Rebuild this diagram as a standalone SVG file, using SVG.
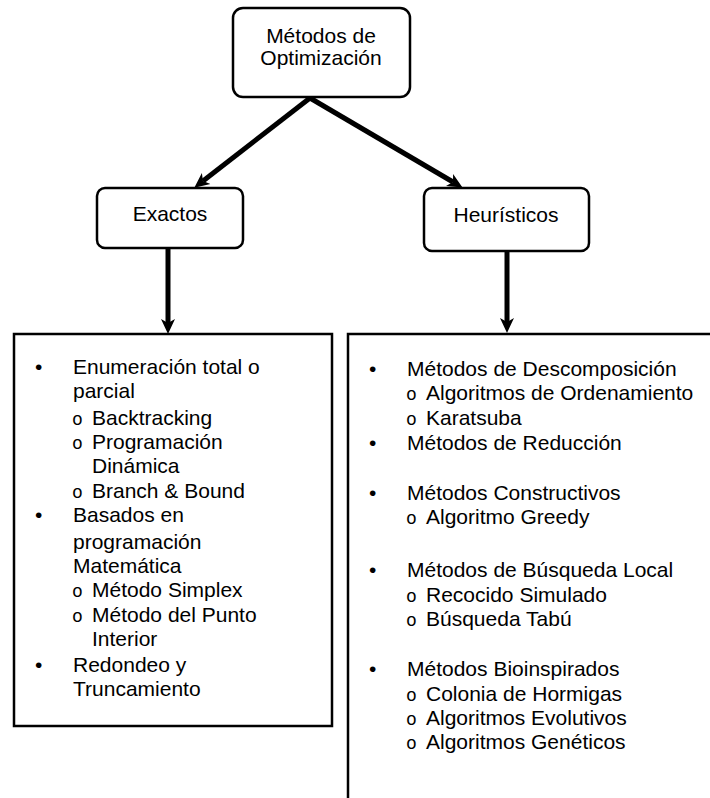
<svg xmlns="http://www.w3.org/2000/svg" width="710" height="798" viewBox="0 0 710 798">
<style>
.box{fill:#fff;stroke:#000;stroke-width:2.5}
.t{font-family:"Liberation Sans",Arial,sans-serif;font-size:21px;fill:#000}
.c{text-anchor:middle}
.o{font-family:"Liberation Mono","Courier New",monospace;font-size:18px;fill:#000}
.edge{stroke:#000;stroke-width:5;fill:none;marker-end:url(#ah)}
</style>
<defs>
<marker id="ah" markerUnits="userSpaceOnUse" markerWidth="18" markerHeight="16" viewBox="0 -8 18 16" refX="4" refY="0" orient="auto">
<path d="M0,-7 L15,0 L0,7 L4,0 z" fill="#000"/>
</marker>
</defs>
<rect width="710" height="798" fill="#fff"/>
<g id="connectors">
<line class="edge" x1="310" y1="98" x2="203" y2="181"/>
<line class="edge" x1="310" y1="98" x2="453" y2="182"/>
<line class="edge" x1="168" y1="248" x2="168" y2="323"/>
<line class="edge" x1="507" y1="251" x2="507" y2="322"/>
</g>
<g id="n-root">
<rect class="box" x="233" y="8" width="177" height="89" rx="10"/>
<text class="t c" x="321" y="43">Métodos de</text>
<text class="t c" x="321" y="65">Optimización</text>
</g>
<g id="n-exactos">
<rect class="box" x="97" y="188" width="146" height="60" rx="8"/>
<text class="t c" x="170" y="221">Exactos</text>
</g>
<g id="n-heuristicos">
<rect class="box" x="424" y="188" width="165" height="63" rx="8"/>
<text class="t c" x="506" y="222">Heurísticos</text>
</g>
<g id="n-exactos-list">
<rect class="box" x="14" y="334" width="318" height="392"/>
<text class="t" x="35" y="374">•</text>
<text class="t" x="73" y="374">Enumeración total o</text>
<text class="t" x="73" y="398">parcial</text>
<text class="o" x="72" y="425">o</text><text class="t" x="92" y="425">Backtracking</text>
<text class="o" x="72" y="449">o</text><text class="t" x="92" y="449">Programación</text>
<text class="t" x="92" y="473">Dinámica</text>
<text class="o" x="72" y="498">o</text><text class="t" x="92" y="498">Branch &amp; Bound</text>
<text class="t" x="35" y="522">•</text>
<text class="t" x="73" y="522">Basados en</text>
<text class="t" x="73" y="549">programación</text>
<text class="t" x="73" y="573">Matemática</text>
<text class="o" x="72" y="597">o</text><text class="t" x="92" y="597">Método Simplex</text>
<text class="o" x="72" y="622">o</text><text class="t" x="92" y="622">Método del Punto</text>
<text class="t" x="92" y="646">Interior</text>
<text class="t" x="35" y="672">•</text>
<text class="t" x="73" y="672">Redondeo y</text>
<text class="t" x="73" y="696">Truncamiento</text>
</g>
<g id="n-heuristicos-list">
<path d="M348,800 L348,334 L712,334" fill="none" stroke="#000" stroke-width="2.5"/>
<text class="t" x="369" y="376">•</text>
<text class="t" x="407" y="376">Métodos de Descomposición</text>
<text class="o" x="406" y="400">o</text><text class="t" x="426" y="400">Algoritmos de Ordenamiento</text>
<text class="o" x="406" y="425">o</text><text class="t" x="426" y="425">Karatsuba</text>
<text class="t" x="369" y="450">•</text>
<text class="t" x="407" y="450">Métodos de Reducción</text>
<text class="t" x="369" y="500">•</text>
<text class="t" x="407" y="500">Métodos Constructivos</text>
<text class="o" x="406" y="524">o</text><text class="t" x="426" y="524">Algoritmo Greedy</text>
<text class="t" x="369" y="577">•</text>
<text class="t" x="407" y="577">Métodos de Búsqueda Local</text>
<text class="o" x="406" y="602">o</text><text class="t" x="426" y="602">Recocido Simulado</text>
<text class="o" x="406" y="626">o</text><text class="t" x="426" y="626">Búsqueda Tabú</text>
<text class="t" x="369" y="676">•</text>
<text class="t" x="407" y="676">Métodos Bioinspirados</text>
<text class="o" x="406" y="701">o</text><text class="t" x="426" y="701">Colonia de Hormigas</text>
<text class="o" x="406" y="725">o</text><text class="t" x="426" y="725">Algoritmos Evolutivos</text>
<text class="o" x="406" y="749">o</text><text class="t" x="426" y="749">Algoritmos Genéticos</text>
</g>
</svg>
